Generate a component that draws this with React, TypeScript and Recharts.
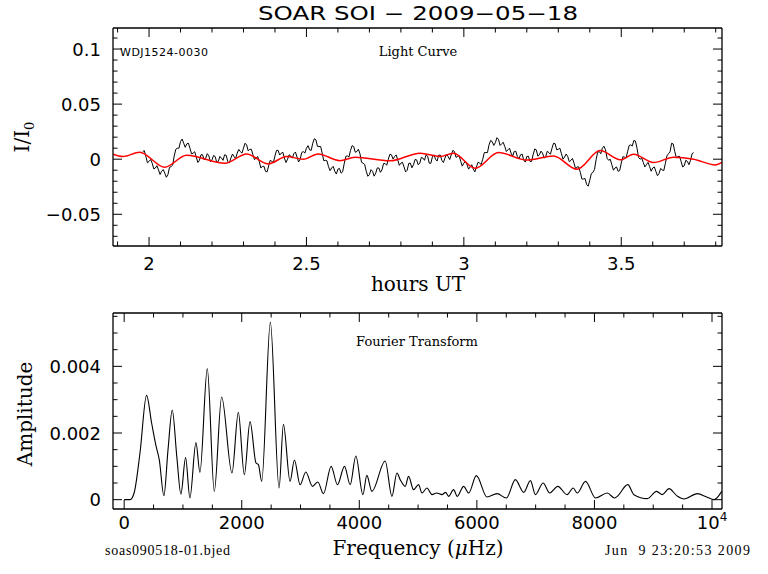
import React from 'react';
import { LineChart, Line, XAxis, YAxis } from 'recharts';

// light curve, sampled every 0.005 h starting at 1.98 h UT
const lcStart = 1.98;
const lcStep = 0.005;
const lcFlux = [
  0.007, 0.0077, 0.0024, -0.0033, -0.002, -0.0003, -0.0036, -0.0088, -0.008, -0.0059, -0.0097, -0.0139, -0.011, -0.0094, -0.0127, -0.0164, -0.014, -0.0074, -0.0067, -0.0054,
  0.003, 0.009, 0.010, 0.010, 0.016, 0.0183, 0.0145, 0.0108, 0.014, 0.0145, 0.010, 0.0048, 0.0055, 0.0068, 0.002, -0.003, -0.001, 0.004, 0.004, -0.0005,
  0.001, 0.005, 0.003, -0.0023, -0.0006, 0.0034, 0.0024, -0.0028, -0.002, 0.0025, 0.001, -0.001, 0.004, 0.0035, -0.002, -0.0035, 0.001, 0.0047, 0.0024, 0.0005,
  0.0055, 0.0088, 0.007, 0.0055, 0.010, 0.0145, 0.013, 0.0075, 0.009, 0.009, 0.004, -0.0005, 0.001, 0.0025, -0.002, -0.0079, -0.0067, -0.0064, -0.011, -0.0115,
  -0.006, -0.001, -0.002, -0.003, 0.003, 0.008, 0.008, 0.0038, 0.0055, 0.0063, 0.001, -0.003, 0, 0.004, 0.003, 0.001, 0.005, 0.0065, 0.002, -0.0025,
  0, 0.006, 0.007, 0.0055, 0.010, 0.0123, 0.0085, 0.008, 0.0145, 0.0186, 0.0176, 0.0116, 0.0115, 0.0115, 0.0055, -0.0013, -0.001, -0.0014, -0.0067, -0.0104,
  -0.008, -0.0065, -0.011, -0.0135, -0.009, -0.0084, -0.0127, -0.0114, -0.004, 0.0025, 0.003, 0.002, 0.008, 0.0123, 0.0115, 0.0063, 0.007, 0.009, 0.005, -0.0028,
  -0.0036, -0.0048, -0.011, -0.0155, -0.014, -0.0095, -0.011, -0.0154, -0.0127, -0.0079, -0.008, -0.0119, -0.0097, -0.0039, -0.004, -0.0055, 0, 0.0045, 0.004, 0.0002,
  0.0024, 0.0039, -0.0006, -0.0056, -0.0036, -0.0028, -0.007, -0.0115, -0.010, -0.0038, -0.0036, -0.0078, -0.005, -0.0003, -0.0006, -0.0051, -0.0036, 0.0017, 0.001, -0.001,
  0.004, 0.0027, -0.0036, -0.0038, 0.002, 0.004, 0, -0.0017, 0.0036, 0.0038, -0.001, -0.003, 0.001, 0.0047, 0.0024, -0.0003, 0.004, 0.008, 0.007, 0.0017,
  0.0024, 0.0032, -0.002, -0.0063, -0.0036, -0.0018, -0.005, -0.009, -0.007, -0.005, -0.009, -0.0115, -0.007, -0.0028, -0.0036, -0.0048, 0, 0.006, 0.006, 0.006,
  0.013, 0.017, 0.016, 0.0125, 0.015, 0.0195, 0.018, 0.0125, 0.014, 0.0153, 0.0115, 0.007, 0.0085, 0.01, 0.0055, 0.0028, 0.007, 0.0072, 0.0024, 0.0002,
  0.004, 0.0047, -0.0006, -0.0026, 0.0024, 0.0027, -0.002, -0.002, 0.004, 0.0093, 0.0085, 0.0028, 0.004, 0.0073, 0.0055, 0.001, 0.0024, 0.0072, 0.006, 0.0045,
  0.010, 0.0145, 0.014, 0.0085, 0.009, 0.01, 0.005, 0, 0.002, 0.0047, 0.0024, -0.0023, -0.001, 0.0007, -0.0036, -0.0088, -0.007, -0.007, -0.012, -0.018,
  -0.018, -0.0175, -0.023, -0.0245, -0.019, -0.013, -0.012, -0.0093, -0.0006, 0.0062, 0.007, 0.005, 0.010, 0.0118, 0.0085, 0.0008, -0.001, 0, -0.005, -0.01,
  -0.008, -0.007, -0.011, -0.0103, -0.0036, 0.0022, 0.002, 0.0009, 0.0067, 0.0124, 0.013, 0.012, 0.017, 0.0165, 0.010, 0.0015, 0, 0.001, -0.003, -0.007,
  -0.005, -0.0029, -0.0067, -0.0109, -0.008, -0.007, -0.011, -0.015, -0.013, -0.0084, -0.0097, -0.0104, -0.004, 0.003, 0.005, 0.0068, 0.0145, 0.0138, 0.007, 0.0012,
  0.0024, 0.0027, -0.002, -0.007, -0.006, -0.001, -0.002, -0.005, -0.001, 0.005, 0.006,
];

// red fit curve
const fitHours = [
  1.886, 1.917, 1.97, 2.05, 2.119, 2.241, 2.31, 2.378, 2.437, 2.49,
  2.537, 2.606, 2.654, 2.765, 2.861, 2.924, 2.967, 3.036, 3.11, 3.2,
  3.285, 3.359, 3.433, 3.497, 3.539, 3.603, 3.666, 3.73, 3.799, 3.82,
];
const fitFlux = [
  0.0045, 0.0024, 0.0064, -0.0073, 0.0035, -0.0036, 0.0048, -0.0043, 0.0024, 0,
  0.0048, -0.0013, 0.0018, -0.0015, 0.0055, 0.0024, 0.0055, -0.0082, 0.006, -0.0008,
  0.003, -0.0091, 0.0078, -0.0006, 0.0045, -0.003, 0.0018, 0, -0.0052, -0.003,
];

// Fourier transform
const ftFreq = [
  0, 100, 169, 269, 381, 467, 537, 597, 676, 746,
  818, 895, 965, 1045, 1118, 1221, 1289, 1414, 1533, 1658,
  1834, 1942, 2044, 2141, 2243, 2283, 2340, 2487, 2635, 2709,
  2822, 2896, 2993, 3090, 3203, 3294, 3390, 3521, 3628, 3748,
  3845, 3941, 4061, 4128, 4214, 4440, 4555, 4640, 4696, 4781,
  4838, 4923, 5008, 5066, 5151, 5236, 5318, 5407, 5467, 5520,
  5604, 5666, 5775, 5861, 5991, 6173, 6344, 6502, 6655, 6797,
  6911, 6996, 7127, 7239, 7376, 7536, 7638, 7707, 7848, 8018,
  8218, 8342, 8389, 8568, 8671, 8899, 9057, 9155, 9268, 9413,
  9523, 9751, 9910, 10034, 10165,
];
const ftAmp = [
  0, 0, 0.0002, 0.0014, 0.00313, 0.0023, 0.00165, 0.0012, 0.00012, 0.0015,
  0.00269, 0.0013, 0.00017, 0.00126, 0.00005, 0.00171, 0.00082, 0.00393, 0.00025, 0.00308,
  0.0008, 0.00262, 0.00075, 0.00234, 0.0011, 0.00105, 0.00055, 0.00532, 0.00035, 0.00226,
  0.00055, 0.00119, 0.00045, 0.00083, 0.0004, 0.00053, 0.00018, 0.001, 0.00045, 0.001,
  0.00045, 0.00131, 0.00015, 0.00073, 0.00025, 0.00116, 0.0001, 0.0008, 0.0006, 0.0004,
  0.0007, 0.0003, 0.00045, 0.0002, 0.00035, 0.00015, 0.0002, 0.00015, 0.00022, 0.0001,
  0.0003, 0.0001, 0.0004, 0.0002, 0.00072, 0.00008, 0.00018, 0.00005, 0.0006, 0.00022,
  0.00057, 0.00015, 0.0005, 0.0002, 0.0004, 0.00015, 0.00035, 0.0002, 0.00055, 0.00005,
  0.0002, 0.00005, 0.0001, 0.00045, 0.00015, 0.00003, 0.00025, 0.00015, 0.00033, 0.0001,
  0.00002, 0.00018, 0.00008, 0, 0.00025,
];

// ticks
const hourTicks = [1.9, 2, 2.1, 2.2, 2.3, 2.4, 2.5, 2.6, 2.7, 2.8, 2.9, 3, 3.1, 3.2, 3.3, 3.4, 3.5, 3.6, 3.7, 3.8];
const hourMajor = [2, 2.5, 3, 3.5];
const fluxTicks = [-0.07, -0.06, -0.05, -0.04, -0.03, -0.02, -0.01, 0, 0.01, 0.02, 0.03, 0.04, 0.05, 0.06, 0.07, 0.08, 0.09, 0.1, 0.11];
const fluxMajor = [-0.05, 0, 0.05, 0.1];
const freqTicks = [0, 500, 1000, 1500, 2000, 2500, 3000, 3500, 4000, 4500, 5000, 5500, 6000, 6500, 7000, 7500, 8000, 8500, 9000, 9500, 10000];
const freqMajor = [0, 2000, 4000, 6000, 8000, 10000];
const ampTicks = [0, 0.0005, 0.001, 0.0015, 0.002, 0.0025, 0.003, 0.0035, 0.004, 0.0045, 0.005, 0.0055];
const ampMajor = [0, 0.002, 0.004];

const lightCurve = lcFlux.map((v, i) => ({ t: lcStart + i * lcStep, v }));
const fitCurve = fitHours.map((t, i) => ({ t, v: fitFlux[i] }));
const ftData = ftFreq.map((f, i) => ({ f, a: ftAmp[i] }));

const numFont = 'DejaVu Sans';
const serif = 'DejaVu Serif';
const frame = { stroke: '#000', strokeWidth: 1.3 };

const minus = (s: string) => s.replace('-', '\u2212');

const makeTick =
  (side: 'bottom' | 'top' | 'left' | 'right', majors: number[], fmt?: (v: number) => React.ReactNode, off = 22) =>
  (props: any) => {
    const { x, y, payload } = props;
    const v = payload.value;
    const major = majors.some((m) => Math.abs(m - v) < 1e-9);
    const len = major ? 9 : 4.5;
    let line;
    let label = null;
    if (side === 'bottom') {
      line = <line x1={x} y1={y} x2={x} y2={y - len} stroke="#000" />;
      if (major && fmt)
        label = (
          <text x={x} y={y + off} textAnchor="middle" fontFamily={numFont} fontSize={18} fill="#000">
            {fmt(v)}
          </text>
        );
    } else if (side === 'top') {
      line = <line x1={x} y1={y} x2={x} y2={y + len} stroke="#000" />;
    } else if (side === 'left') {
      line = <line x1={x} y1={y} x2={x + len} y2={y} stroke="#000" />;
      if (major && fmt)
        label = (
          <text x={x - 12} y={y + 6.5} textAnchor="end" fontFamily={numFont} fontSize={18} fill="#000">
            {fmt(v)}
          </text>
        );
    } else {
      line = <line x1={x} y1={y} x2={x - len} y2={y} stroke="#000" />;
    }
    return (
      <g>
        {line}
        {label}
      </g>
    );
  };

const fmtHour = (v: number) => String(v);
const fmtFlux = (v: number) => minus(String(v));
const fmtAmp = (v: number) => String(v);
const fmtFreq = (v: number) =>
  v === 10000 ? (
    <>
      10<tspan dy={-8} fontSize={12}>4</tspan>
    </>
  ) : (
    String(v)
  );

const hourDomain: [number, number] = [1.8855, 3.82];
const fluxDomain: [number, number] = [-0.0788, 0.1191];
const freqDomain: [number, number] = [-190, 10170];
const ampDomain: [number, number] = [-0.00028, 0.0056];

const axisCommon = { tickSize: 0, tickMargin: 0, tickLine: false, axisLine: frame, interval: 0 as const, allowDataOverflow: true };

const App: React.FC = () => {
  return (
    <div style={{ position: 'absolute', left: 0, top: 0, width: 768, height: 574, background: '#fff' }}>
      <div style={{ position: 'absolute', left: 0, top: 0 }}>
        <LineChart width={768} height={300} margin={{ top: 0, right: 0, bottom: 0, left: 0 }}>
          <XAxis xAxisId="b" dataKey="t" type="number" domain={hourDomain} ticks={hourTicks} height={54}
            {...axisCommon} tick={makeTick('bottom', hourMajor, fmtHour, 24)} />
          <XAxis xAxisId="t" dataKey="t" orientation="top" type="number" domain={hourDomain} ticks={hourTicks} height={28}
            {...axisCommon} tick={makeTick('top', hourMajor)} />
          <YAxis yAxisId="l" type="number" domain={fluxDomain} ticks={fluxTicks} width={113}
            {...axisCommon} tick={makeTick('left', fluxMajor, fmtFlux)} />
          <YAxis yAxisId="r" orientation="right" type="number" domain={fluxDomain} ticks={fluxTicks} width={46}
            {...axisCommon} tick={makeTick('right', fluxMajor)} />
          <Line xAxisId="b" yAxisId="l" data={lightCurve} dataKey="v" type="linear" stroke="#000"
            strokeWidth={1} dot={false} isAnimationActive={false} />
          <Line xAxisId="b" yAxisId="l" data={fitCurve} dataKey="v" type="monotone" stroke="#ff0000"
            strokeWidth={1.5} dot={false} isAnimationActive={false} />
        </LineChart>
      </div>
      <div style={{ position: 'absolute', left: 0, top: 260 }}>
        <LineChart width={768} height={314} data={ftData} margin={{ top: 0, right: 0, bottom: 0, left: 0 }}>
          <XAxis xAxisId="b" dataKey="f" type="number" domain={freqDomain} ticks={freqTicks} height={65}
            {...axisCommon} tick={makeTick('bottom', freqMajor, fmtFreq, 20)} />
          <XAxis xAxisId="t" dataKey="f" orientation="top" type="number" domain={freqDomain} ticks={freqTicks} height={53}
            {...axisCommon} tick={makeTick('top', freqMajor)} />
          <YAxis yAxisId="l" type="number" domain={ampDomain} ticks={ampTicks} width={113}
            {...axisCommon} tick={makeTick('left', ampMajor, fmtAmp)} />
          <YAxis yAxisId="r" orientation="right" type="number" domain={ampDomain} ticks={ampTicks} width={46}
            {...axisCommon} tick={makeTick('right', ampMajor)} />
          <Line xAxisId="b" yAxisId="l" dataKey="a" type="monotone" stroke="#000" strokeWidth={1.1}
            dot={false} isAnimationActive={false} />
        </LineChart>
      </div>
      <svg width={768} height={574} style={{ position: 'absolute', left: 0, top: 0, pointerEvents: 'none' }}>
        <text x={418} y={20} textAnchor="middle" fontFamily={numFont} fontSize={19} textLength={320}
          lengthAdjust="spacingAndGlyphs">
          SOAR SOI {'\u2212'} 2009{'\u2212'}05{'\u2212'}18
        </text>
        <text x={120} y={56} fontFamily={numFont} fontSize={11} textLength={88}>WDJ1524-0030</text>
        <text x={418} y={56} textAnchor="middle" fontFamily={serif} fontSize={13}>Light Curve</text>
        <text x={418} y={291} textAnchor="middle" fontFamily={serif} fontSize={20}>hours UT</text>
        <text x={29} y={137} textAnchor="middle" fontFamily={serif} fontSize={20} transform="rotate(-90 29 137)">
          I/I<tspan dy={5} fontSize={13}>0</tspan>
        </text>
        <text x={417} y={346} textAnchor="middle" fontFamily={serif} fontSize={13}>Fourier Transform</text>
        <text x={32} y={414} textAnchor="middle" fontFamily={serif} fontSize={20} transform="rotate(-90 32 414)">
          Amplitude
        </text>
        <text x={418} y={555} textAnchor="middle" fontFamily={serif} fontSize={20}>
          Frequency (<tspan fontStyle="italic">{'\u03bc'}</tspan>Hz)
        </text>
        <text x={105} y={555} fontFamily="Liberation Serif" fontSize={14} textLength={125}>soas090518-01.bjed</text>
        <text x={605} y={555} fontFamily="Liberation Serif" fontSize={14} textLength={145} style={{ whiteSpace: 'pre' }}>
          {'Jun  9 23:20:53 2009'}
        </text>
      </svg>
    </div>
  );
};

export default App;
